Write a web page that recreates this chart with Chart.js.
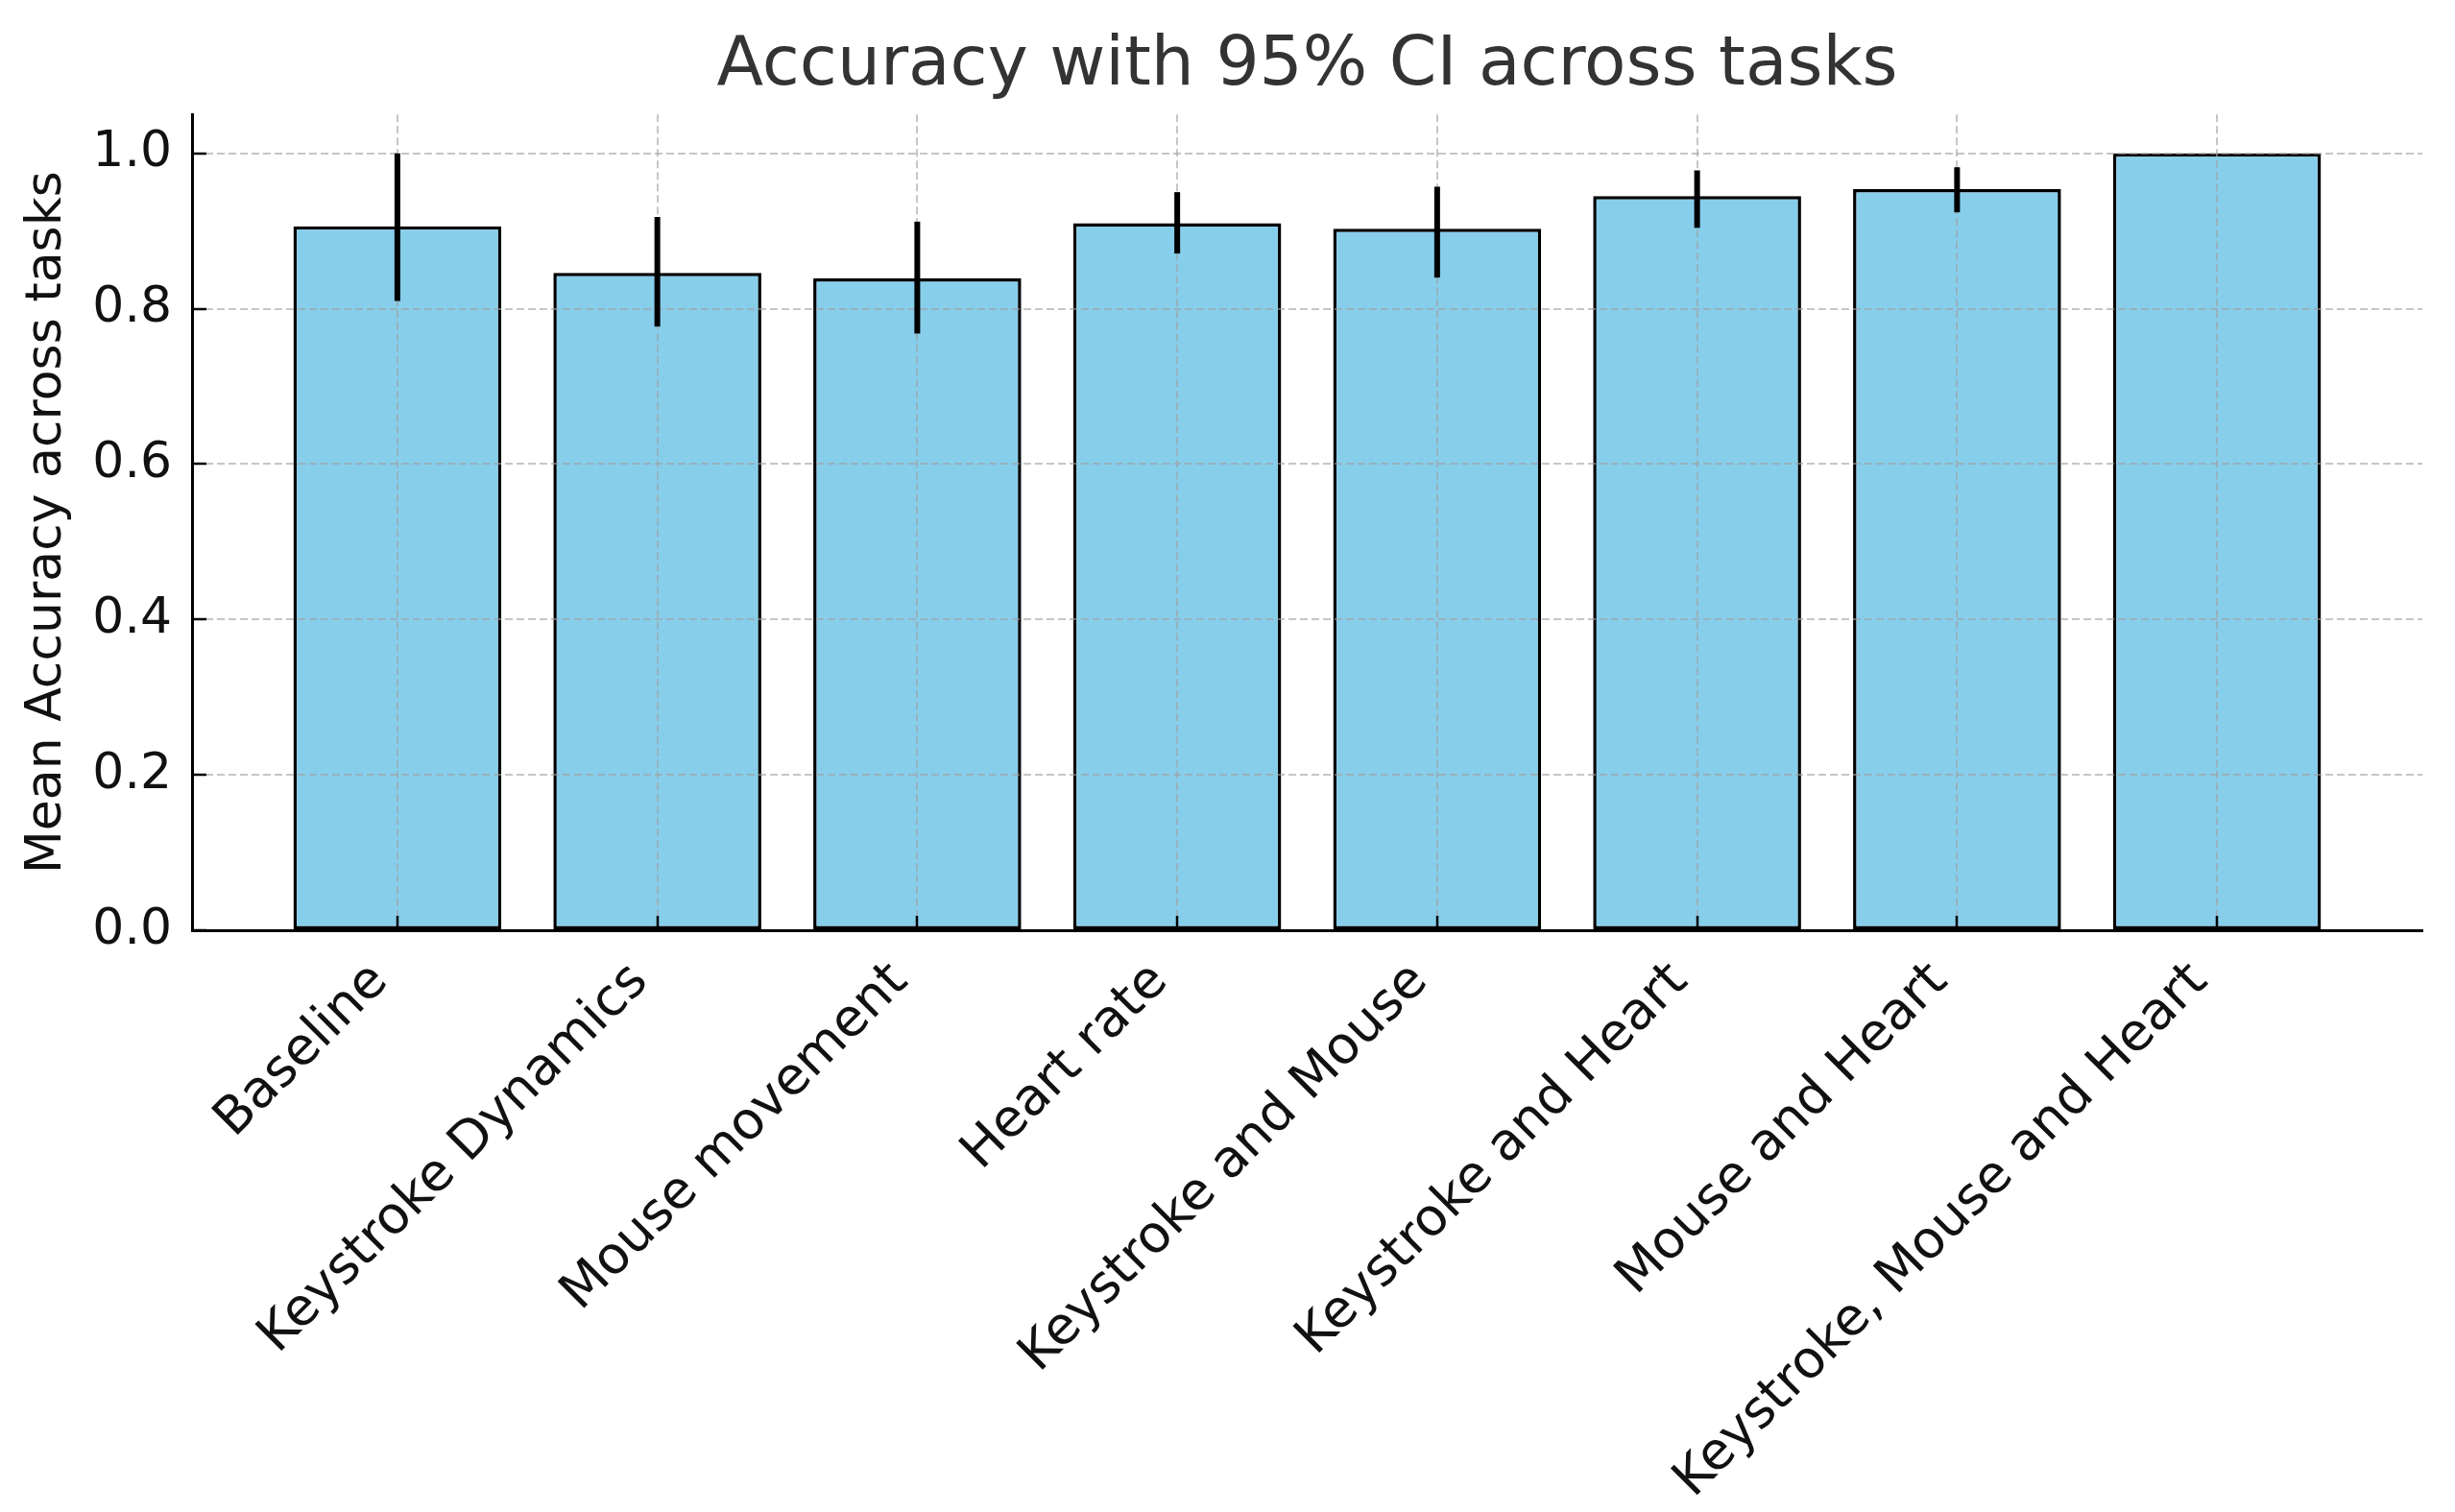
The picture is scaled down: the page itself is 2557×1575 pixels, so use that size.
<!DOCTYPE html>
<html lang="en">
<head>
  <meta charset="UTF-8" />
  <title>Accuracy with 95% CI across tasks</title>
  <script src="https://cdn.jsdelivr.net/npm/chart.js"></script>
  <style>
    body {
      margin: 0;
      background: #ffffff;
    }
    #chart {
      display: block;
    }
  </style>
</head>
<body>
<canvas id="chart" width="2557" height="1575"></canvas>

<script>
  // data
  const taskLabels = [
    "Baseline", "Keystroke Dynamics", "Mouse movement", "Heart rate",
    "Keystroke and Mouse", "Keystroke and Heart", "Mouse and Heart",
    "Keystroke, Mouse and Heart"
  ];
  const meanAcc = [0.906, 0.846, 0.839, 0.910, 0.903, 0.945, 0.954, 1.0];
  const ciLow  = [0.810, 0.777, 0.768, 0.871, 0.840, 0.904, 0.924, 1.0];
  const ciHigh = [1.000, 0.918, 0.912, 0.950, 0.957, 0.978, 0.982, 1.0];
  const yTicks = [0, 0.2, 0.4, 0.6, 0.8, 1.0];

  const FONT = "'DejaVu Sans', sans-serif";
  const GRID = "rgba(160,160,160,0.6)";

  // vertical CI lines, drawn after the grid so they stay black
  const errorBars = {
    id: "errorBars",
    afterDraw(chart) {
      const { ctx, scales: { x, y } } = chart;
      ctx.save();
      ctx.strokeStyle = "#000";
      ctx.lineWidth = 6;
      taskLabels.forEach((_, i) => {
        if (ciHigh[i] === ciLow[i]) return;
        const px = x.getPixelForValue(i);
        ctx.beginPath();
        ctx.moveTo(px, y.getPixelForValue(ciLow[i]));
        ctx.lineTo(px, y.getPixelForValue(ciHigh[i]));
        ctx.stroke();
      });
      ctx.restore();
    }
  };

  const gridOpts = {
    z: 1,
    offset: false,
    // no dashed line on top of the x spine
    color: c => (c.tick && c.tick.value === 0 && c.scale.axis === "y") ? "rgba(0,0,0,0)" : GRID,
    lineWidth: 2,
    tickLength: -15,
    tickColor: "#000",
    tickWidth: 2.5
  };

  new Chart(document.getElementById("chart"), {
    type: "bar",
    data: {
      datasets: [{
        label: "Mean Accuracy",
        data: meanAcc.map((v, i) => ({ x: i, y: v })),
        backgroundColor: "#87CEEB",
        borderColor: "#000",
        borderWidth: 3.5,
        borderSkipped: false,
        categoryPercentage: 1,
        barPercentage: 0.8
      }]
    },
    options: {
      responsive: false,
      animation: false,
      devicePixelRatio: 1,
      layout: { padding: { left: 0, right: 34, top: 0, bottom: 0 } },
      plugins: {
        legend: { display: false },
        tooltip: { enabled: false },
        title: {
          display: true,
          fullSize: false,
          text: "Accuracy with 95% CI across tasks",
          color: "#333",
          font: { family: FONT, size: 71, weight: "normal" },
          padding: { top: 27, bottom: 7 }
        }
      },
      scales: {
        x: {
          type: "linear",
          offset: false,
          min: -0.79,
          max: 7.79,
          afterBuildTicks: axis => { axis.ticks = taskLabels.map((_, i) => ({ value: i })); },
          afterFit: axis => { axis.height = 606; },
          grid: gridOpts,
          border: { display: true, color: "#000", width: 3, dash: [8, 4], z: 1 },
          ticks: {
            autoSkip: false,
            minRotation: 45,
            maxRotation: 45,
            padding: 37,
            labelOffset: -18,
            color: "#111",
            font: { family: FONT, size: 54 },
            callback: v => taskLabels[v]
          }
        },
        y: {
          min: 0,
          max: 1.05,
          afterBuildTicks: axis => { axis.ticks = yTicks.map(v => ({ value: v })); },
          afterFit: axis => { axis.width = 200; },
          grid: gridOpts,
          border: { display: true, color: "#000", width: 3, dash: [8, 4], z: 1 },
          ticks: {
            padding: 36,
            color: "#111",
            font: { family: FONT, size: 52 },
            callback: v => v.toFixed(1)
          },
          title: {
            display: true,
            text: "Mean Accuracy across tasks",
            color: "#111",
            font: { family: FONT, size: 52 },
            padding: { top: 18, bottom: 0 }
          }
        }
      }
    },
    plugins: [errorBars]
  });
</script>
</body>
</html>
